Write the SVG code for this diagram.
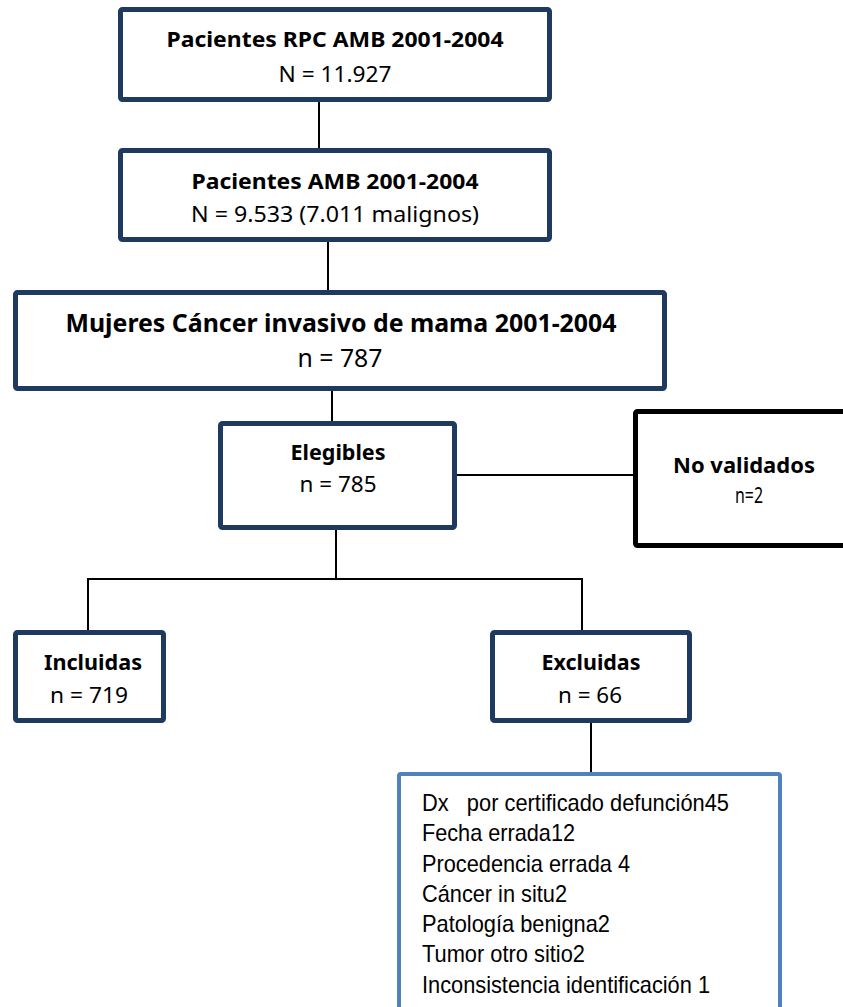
<svg xmlns="http://www.w3.org/2000/svg" width="843" height="1007" viewBox="0 0 843 1007">
<style>
.box{fill:#fff;stroke:#1f3a60;stroke-width:5}
.boxk{fill:#fff;stroke:#000;stroke-width:5}
.boxb{fill:#fff;stroke:#4f81bd;stroke-width:4}
.c{fill:none;stroke:#000;stroke-width:2}
.t{font-family:"Noto Sans","Open Sans",sans-serif;fill:#000;text-anchor:middle}
.b{font-weight:bold}
.l{font-family:"Liberation Sans",Arial,sans-serif;font-size:24px;fill:#000}
</style>
<rect width="843" height="1007" fill="#fff"/>
<g id="connectors">
<line class="c" x1="319" y1="102" x2="319" y2="148"/>
<line class="c" x1="328" y1="242" x2="328" y2="290"/>
<line class="c" x1="332" y1="391" x2="332" y2="421"/>
<line class="c" x1="449" y1="475" x2="634" y2="475"/>
<path class="c" d="M336 530V579M88 630V579H582V630"/>
<line class="c" x1="591" y1="723" x2="591" y2="772"/>
</g>
<g id="n1">
<rect class="box" x="120.5" y="9.5" width="429" height="90" rx="2"/>
<text class="t b" x="335" y="47" font-size="21" textLength="337" lengthAdjust="spacingAndGlyphs">Pacientes RPC AMB 2001-2004</text>
<text class="t" x="335" y="82" font-size="21" textLength="113" lengthAdjust="spacingAndGlyphs">N = 11.927</text>
</g>
<g id="n2">
<rect class="box" x="120.5" y="150.5" width="429" height="89" rx="2"/>
<text class="t b" x="335" y="189" font-size="21" textLength="287" lengthAdjust="spacingAndGlyphs">Pacientes AMB 2001-2004</text>
<text class="t" x="335" y="222" font-size="21" textLength="288" lengthAdjust="spacingAndGlyphs">N = 9.533 (7.011 malignos)</text>
</g>
<g id="n3">
<rect class="box" x="15.5" y="292.5" width="649" height="96" rx="2"/>
<text class="t b" x="341" y="332" font-size="25.5" textLength="551" lengthAdjust="spacingAndGlyphs">Mujeres Cáncer invasivo de mama 2001-2004</text>
<text class="t" x="340" y="367" font-size="25.5" textLength="85" lengthAdjust="spacingAndGlyphs">n = 787</text>
</g>
<g id="n4">
<rect class="box" x="220.5" y="423.5" width="234" height="104" rx="2"/>
<text class="t b" x="338" y="460" font-size="22" textLength="95" lengthAdjust="spacingAndGlyphs">Elegibles</text>
<text class="t" x="338" y="492" font-size="22" textLength="77" lengthAdjust="spacingAndGlyphs">n = 785</text>
</g>
<g id="n5">
<rect class="boxk" x="635.5" y="411.5" width="220" height="134" rx="2"/>
<text class="t b" x="744" y="473" font-size="22" textLength="142" lengthAdjust="spacingAndGlyphs">No validados</text>
<text class="t" x="749" y="503" font-size="22" textLength="28" lengthAdjust="spacingAndGlyphs">n=2</text>
</g>
<g id="n6">
<rect class="box" x="15.5" y="632.5" width="148" height="88" rx="2"/>
<text class="t b" x="93" y="670" font-size="22" textLength="98" lengthAdjust="spacingAndGlyphs">Incluidas</text>
<text class="t" x="89" y="703" font-size="22" textLength="78" lengthAdjust="spacingAndGlyphs">n = 719</text>
</g>
<g id="n7">
<rect class="box" x="492.5" y="632.5" width="197" height="88" rx="2"/>
<text class="t b" x="591" y="670" font-size="22" textLength="99" lengthAdjust="spacingAndGlyphs">Excluidas</text>
<text class="t" x="590" y="703" font-size="22" textLength="64" lengthAdjust="spacingAndGlyphs">n = 66</text>
</g>
<g id="n8">
<rect class="boxb" x="399" y="774" width="381" height="260" rx="2"/>
<text class="l" x="422" y="811" textLength="307" lengthAdjust="spacingAndGlyphs" xml:space="preserve">Dx   por certificado defunción45</text>
<text class="l" x="422" y="841" textLength="153" lengthAdjust="spacingAndGlyphs">Fecha errada12</text>
<text class="l" x="422" y="872" textLength="208" lengthAdjust="spacingAndGlyphs">Procedencia errada 4</text>
<text class="l" x="422" y="902" textLength="145" lengthAdjust="spacingAndGlyphs">Cáncer in situ2</text>
<text class="l" x="422" y="932" textLength="188" lengthAdjust="spacingAndGlyphs">Patología benigna2</text>
<text class="l" x="422" y="962" textLength="163" lengthAdjust="spacingAndGlyphs">Tumor otro sitio2</text>
<text class="l" x="422" y="993" textLength="288" lengthAdjust="spacingAndGlyphs">Inconsistencia identificación 1</text>
</g>
</svg>
